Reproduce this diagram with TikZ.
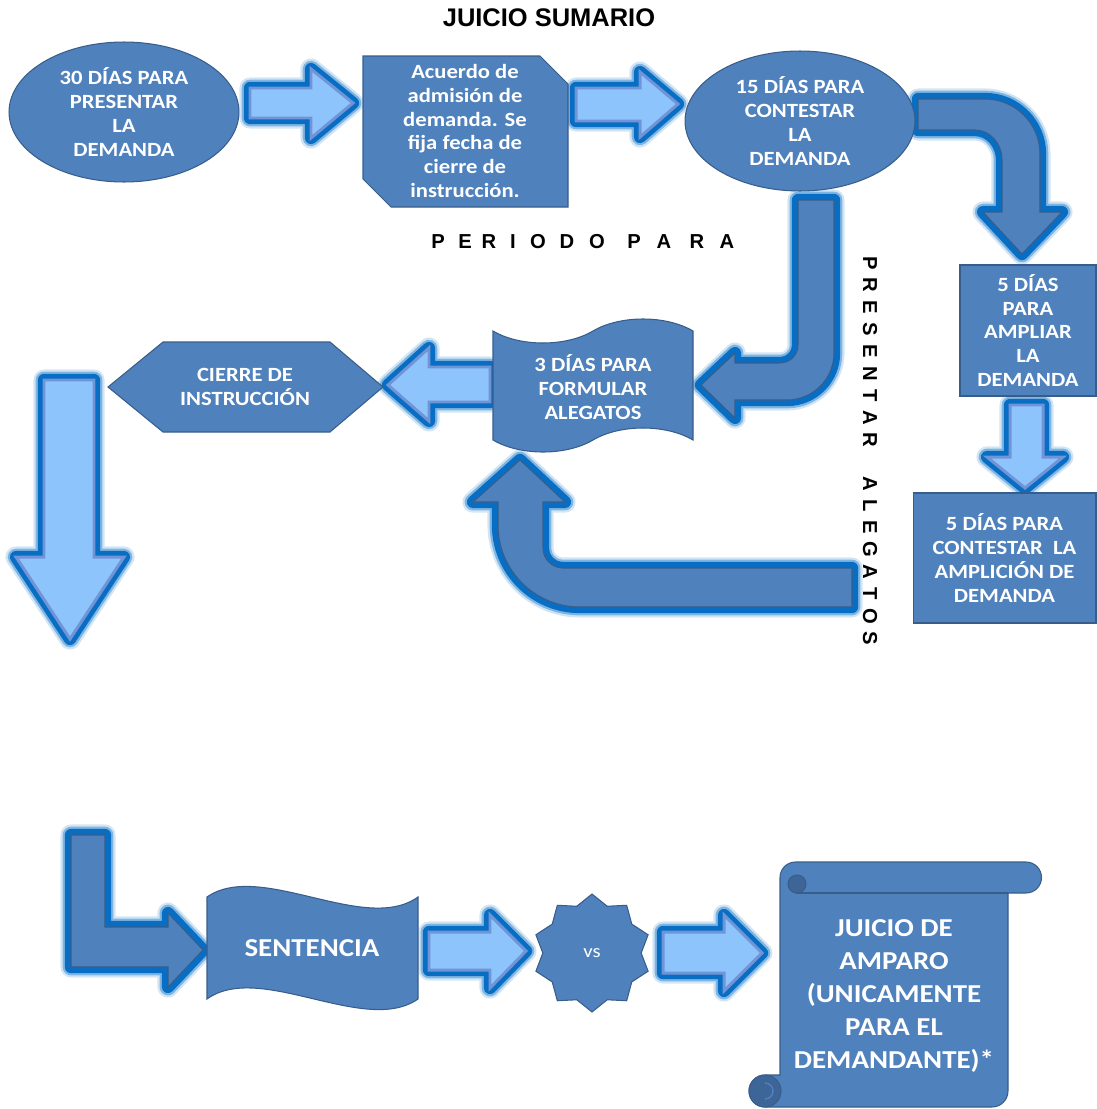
\documentclass[tikz,border=0pt]{standalone}
\usepackage{fontspec}
\setmainfont{Carlito}[FakeStretch=1.12]
\newfontfamily\headfont{Liberation Sans}
\usepackage{tikz}
\usetikzlibrary{shapes.geometric}

\definecolor{boxblue}{RGB}{79,129,189}
\definecolor{boxline}{RGB}{56,93,138}
\definecolor{glowblue}{RGB}{8,110,196}
\definecolor{paleblue}{RGB}{142,196,252}
\definecolor{paleline}{RGB}{112,148,214}
\definecolor{rolldark}{RGB}{62,101,152}

\tikzset{
	glowing/.style={preaction={draw=glowblue,opacity=.18,line width=12pt,line join=round},
		preaction={draw=glowblue,opacity=.4,line width=9.5pt,line join=round},
		preaction={draw=glowblue,line width=7pt,line join=round}},
	palearrow/.style={glowing,fill=paleblue,draw=paleline,line width=1.7pt},
	darkarrow/.style={glowing,fill=boxblue,draw=boxline,line width=.6pt},
	shapebox/.style={fill=boxblue,draw=boxline,line width=.6pt},
	celltext/.style={text=white,font=\fontsize{11.5}{13.6}\selectfont\bfseries,align=center},
	bigtext/.style={text=white,font=\fontsize{14.7}{18.9}\selectfont\bfseries,align=center},
	spaced/.style={font=\headfont\bfseries\fontsize{11.5}{12}\selectfont,inner sep=0pt}
}

\begin{document}
\begin{tikzpicture}[x=0.02cm,y=-0.02cm]
	\useasboundingbox (0,0) rectangle (1096,1109);

	% block arrows
	\draw[palearrow] (250,88) -- (311,88) -- (311,69) -- (353,103) -- (311,138) -- (311,118) -- (250,118) -- cycle;
	\draw[palearrow] (576,88) -- (640,88) -- (640,72) -- (678,104) -- (640,137) -- (640,121) -- (576,121) -- cycle;
	\draw[darkarrow] (918,99) -- (985,99) arc[start angle=-90,end angle=0,radius=55] -- (1040,212) -- (1062,212) -- (1022,254) -- (983,212) -- (1002,212) -- (1002,160) arc[start angle=0,end angle=-90,x radius=27,y radius=30] -- (918,130) -- cycle;
	\draw[palearrow] (1010,405) -- (1043,405) -- (1043,457) -- (1063,457) -- (1025,488) -- (987,457) -- (1010,457) -- cycle;
	\draw[darkarrow] (798,200) -- (834,200) -- (834,353) arc[start angle=0,end angle=90,radius=47] -- (735,400) -- (735,418) -- (701,385) -- (735,353) -- (735,363) -- (780,363) arc[start angle=90,end angle=0,radius=18] -- cycle;
	\draw[palearrow] (490,367) -- (429,367) -- (429,348) -- (388,385) -- (429,421) -- (429,402) -- (490,402) -- cycle;
	\draw[palearrow] (44,380) -- (94,380) -- (94,557) -- (124,557) -- (70,639) -- (16,557) -- (44,557) -- cycle;
	\draw[darkarrow] (852,568) -- (563,568) arc[start angle=90,end angle=180,radius=20] -- (543,502) -- (565,502) -- (520,460) -- (473,502) -- (498,502) -- (498,525) arc[start angle=180,end angle=90,radius=82] -- (852,607) -- cycle;
	\draw[darkarrow] (71,835) -- (105,835) -- (105,927) -- (168,927) -- (168,913) -- (203,950) -- (168,987) -- (168,967) -- (71,967) -- cycle;
	\draw[palearrow] (429,932) -- (490,932) -- (490,915) -- (526,951) -- (490,988) -- (490,970) -- (429,970) -- cycle;
	\draw[palearrow] (663,932) -- (724,932) -- (724,915) -- (762,953) -- (724,991) -- (724,973) -- (663,973) -- cycle;

	% steps
	\node[shapebox,ellipse,minimum width=4.6cm,minimum height=2.8cm,inner sep=0pt,celltext] (dias30) at (124,112) {30 DÍAS PARA\\PRESENTAR\\LA\\DEMANDA};
	\filldraw[shapebox] (363,56) -- (540,56) -- (568,84) -- (568,207) -- (391,207) -- (363,179) -- cycle;
	\node[celltext] (acuerdo) at (465,131) {Acuerdo de\\admisión de\\demanda. Se\\fija fecha de\\cierre de\\instrucción.};
	\node[shapebox,ellipse,minimum width=4.6cm,minimum height=2.8cm,inner sep=0pt,celltext] (dias15) at (800,121) {15 DÍAS PARA\\CONTESTAR\\LA\\DEMANDA};
	\node[shapebox,minimum width=2.72cm,minimum height=2.62cm,inner sep=0pt,celltext] (ampliar) at (1028,330.5) {5 DÍAS\\PARA\\AMPLIAR\\LA\\DEMANDA};
	\node[shapebox,minimum width=3.66cm,minimum height=2.6cm,inner sep=0pt,celltext] (contestar) at (1004.5,558) {5 DÍAS PARA\\CONTESTAR \ LA\\AMPLICIÓN DE\\DEMANDA};
	\filldraw[shapebox] (493,331) .. controls (520,347) and (566,347) .. (593,331) .. controls (620,315) and (666,315) .. (693,331) -- (693,440) .. controls (666,424) and (620,424) .. (593,440) .. controls (566,456) and (520,456) .. (493,440) -- cycle;
	\node[celltext] (alegatos) at (593,387) {3 DÍAS PARA\\FORMULAR\\ALEGATOS};
	\filldraw[shapebox] (108,387) -- (163,342) -- (330,342) -- (383,387) -- (330,432) -- (163,432) -- cycle;
	\node[celltext] (cierre) at (245,387) {CIERRE DE\\INSTRUCCIÓN};

	\filldraw[shapebox] (207,897) .. controls (260,860) and (365,935) .. (418,897) -- (418,999) .. controls (365,1036) and (260,961) .. (207,999) -- cycle;
	\node[bigtext] (sentencia) at (312,948) {SENTENCIA};
	\node[shapebox,star,star points=10,star point ratio=1.2,minimum size=2.36cm,inner sep=0pt,text=white,font=\fontsize{10.5}{12}\selectfont] (versus) at (592,953) {vs};

	% scroll
	\filldraw[shapebox] (795.5,862) -- (1026,862) arc[start angle=-90,end angle=90,radius=15.5] -- (1008,893) -- (1008,1091) arc[start angle=0,end angle=90,radius=16] -- (765,1107) arc[start angle=90,end angle=270,radius=16] -- (780,1075) -- (780,877.5) arc[start angle=180,end angle=270,radius=15.5] -- cycle;
	\draw[boxline,line width=.6pt] (795.5,893) -- (1008,893);
	\filldraw[fill=rolldark,draw=boxline,line width=.6pt] (797,884) circle (9);
	\filldraw[fill=rolldark,draw=boxline,line width=.6pt] (765,1091) circle (16);
	\draw[boxblue,line width=.8pt] (765,1091) ++(0,-8) arc[start angle=-90,end angle=90,radius=8];
	\node[bigtext] (amparo) at (894,996) {JUICIO DE\\AMPARO\\(UNICAMENTE\\PARA EL\\DEMANDANTE)*};

	% titles
	\node[font=\headfont\bfseries\fontsize{14.5}{16}\selectfont] (titulo) at (549,18) {JUICIO SUMARIO};
	\foreach \x/\ch in {438/P,465/E,489/R,513/I,538/O,567/D,597/O,634/P,664/A,697/R,727/A}
		\node[spaced] (per\x) at (\x,242) {\ch};
	\foreach \ch [count=\k from 0] in {P,R,E,S,E,N,T,A,R,{},A,L,E,G,A,T,O,S}
		\node[spaced,rotate=-90] (pre\k) at (870,{263+\k*22.06}) {\ch};
\end{tikzpicture}
\end{document}
